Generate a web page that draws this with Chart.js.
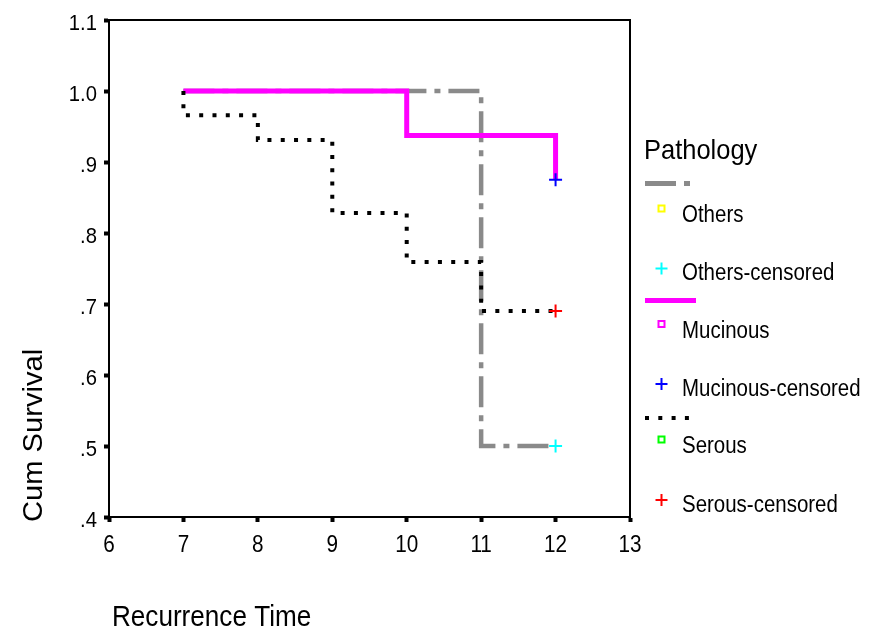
<!DOCTYPE html>
<html>
<head>
<meta charset="utf-8">
<script src="https://cdn.jsdelivr.net/npm/chart.js@4.4.1/dist/chart.umd.min.js"></script>
<style>
  html,body{margin:0;padding:0;background:#fff}
  canvas{display:block}
</style>
</head>
<body>
<canvas id="km" width="872" height="632"></canvas>
<script>
/* Kaplan-Meier: recurrence-free survival by pathology */
const TIME_OTHERS = [7, 11, 12];
const SURV_OTHERS = [1.0, 0.5, 0.5];
const TIME_MUC    = [7, 10, 12];
const SURV_MUC    = [1.0, 0.9375, 0.875];
const TIME_SER    = [7, 7, 8, 9, 10, 11, 12];
const SURV_SER    = [1.0, 0.966, 0.931, 0.828, 0.759, 0.690, 0.690];

// censored cases (last follow-up)
const CENS_TIME   = 12;
const CENS_OTHERS = 0.5;
const CENS_MUC    = 0.875;
const CENS_SER    = 0.690;

const X_TICKS = [6, 7, 8, 9, 10, 11, 12, 13];
const Y_TICKS = [0.4, 0.5, 0.6, 0.7, 0.8, 0.9, 1.0, 1.1];
const Y_TICK_LABELS = ['.4', '.5', '.6', '.7', '.8', '.9', '1.0', '1.1'];

const LEGEND_TITLE = 'Pathology';
const LEGEND_LABELS = ['Others', 'Others-censored', 'Mucinous', 'Mucinous-censored', 'Serous', 'Serous-censored'];

const FONT = '"Liberation Sans", Arial, sans-serif';
const C_OTHERS = '#8a8a8a', C_MUC = '#ff00ff', C_SER = '#000000';
const DASH_OTHERS = [31, 8, 6, 8], DASH_SER = [4, 9.3];

const pts = (xs, ys) => xs.map((x, i) => ({x, y: ys[i]}));

function txt(ctx, s, x, y, size, sx, align){
  ctx.save();
  ctx.font = size + 'px ' + FONT;
  ctx.fillStyle = '#000';
  ctx.textAlign = align || 'left';
  ctx.textBaseline = 'alphabetic';
  ctx.translate(x, y);
  ctx.scale(sx, 1);
  ctx.fillText(s, 0, 0);
  ctx.restore();
}
function seg(ctx, x1, y1, x2, y2, color, w, dash){
  ctx.save();
  ctx.strokeStyle = color; ctx.lineWidth = w; ctx.lineCap = 'butt';
  ctx.setLineDash(dash || []);
  ctx.beginPath(); ctx.moveTo(x1, y1); ctx.lineTo(x2, y2); ctx.stroke();
  ctx.restore();
}
function box(ctx, cx, cy, color){
  ctx.save(); ctx.strokeStyle = color; ctx.lineWidth = 2;
  ctx.strokeRect(cx - 3, cy - 3, 6, 6); ctx.restore();
}
function plus(ctx, cx, cy, color){
  seg(ctx, cx - 6, cy, cx + 6, cy, color, 2);
  seg(ctx, cx, cy - 6, cx, cy + 6, color, 2);
}

// frame, tick labels, axis titles and legend
const decor = {
  id: 'decor',
  afterDraw(chart){
    const ctx = chart.ctx, a = chart.chartArea;
    const xs = chart.scales.x, ys = chart.scales.y;
    ctx.save();
    ctx.strokeStyle = '#000'; ctx.lineWidth = 2;
    ctx.beginPath();
    ctx.moveTo(a.left, a.top); ctx.lineTo(a.right, a.top); ctx.lineTo(a.right, a.bottom);
    ctx.stroke();
    ctx.restore();

    Y_TICKS.forEach((v, i) => txt(ctx, Y_TICK_LABELS[i], 97, ys.getPixelForValue(v) + 9.5, 22, 0.92, 'right'));
    X_TICKS.forEach(v => txt(ctx, String(v), xs.getPixelForValue(v), 552, 23, 0.9, 'center'));

    ctx.save();
    ctx.font = '28px ' + FONT; ctx.fillStyle = '#000';
    ctx.translate(42, 522); ctx.rotate(-Math.PI / 2); ctx.scale(1.04, 1);
    ctx.fillText('Cum Survival', 0, 0);
    ctx.restore();
    txt(ctx, 'Recurrence Time', 112, 626, 30, 0.87);

    // legend
    txt(ctx, LEGEND_TITLE, 644, 159, 28, 0.91);
    const rows = [
      {line: [C_OTHERS, 5, DASH_OTHERS, 690], mk: box,  mc: '#ffff00'},
      {mk: plus, mc: '#00ffff'},
      {line: [C_MUC, 5, [], 696], mk: box,  mc: C_MUC},
      {mk: plus, mc: '#0000ff'},
      {line: [C_SER, 4, DASH_SER, 690], mk: box,  mc: '#00ff00'},
      {mk: plus, mc: '#ff0000'}
    ];
    const base = [222, 280, 337.5, 395.5, 453, 511.5];
    const lineY = [183.5, null, 300.5, null, 418];
    rows.forEach((r, i) => {
      if (r.line) seg(ctx, 645, lineY[i], r.line[3], lineY[i], r.line[0], r.line[1], r.line[2]);
      const my = r.mk === box ? base[i] - 13.5 : base[i] - 11.5;
      r.mk(ctx, 661.5, my, r.mc);
      txt(ctx, LEGEND_LABELS[i], 682, base[i], 23, 0.89);
    });
  }
};

const stepLine = (data, color, w, dash, order) => ({
  type: 'line', data, borderColor: color, borderWidth: w, borderDash: dash,
  borderCapStyle: 'butt', stepped: true, pointRadius: 0, fill: false, order
});
const censor = (y, color) => ({
  type: 'scatter', data: [{x: CENS_TIME, y}], pointStyle: 'cross', pointRadius: 6.5,
  pointBorderWidth: 2, borderColor: color, backgroundColor: color, order: 0
});

new Chart(document.getElementById('km'), {
  data: {
    datasets: [
      stepLine(pts(TIME_OTHERS, SURV_OTHERS), C_OTHERS, 4.5, DASH_OTHERS, 3),
      stepLine(pts(TIME_MUC, SURV_MUC), C_MUC, 5, [], 2),
      stepLine(pts(TIME_SER, SURV_SER), C_SER, 4, DASH_SER, 1),
      censor(CENS_OTHERS, '#00ffff'),
      censor(CENS_MUC, '#0000ff'),
      censor(CENS_SER, '#ff0000')
    ]
  },
  options: {
    responsive: false, animation: false, devicePixelRatio: 1,
    layout: {padding: {top: 20, right: 242, left: 0, bottom: 0}},
    plugins: {legend: {display: false}, tooltip: {enabled: false}},
    scales: {
      x: {
        type: 'linear', min: 6, max: 13,
        afterBuildTicks: s => { s.ticks = X_TICKS.map(v => ({value: v})); },
        afterFit: s => { s.height = 115; },
        ticks: {display: false},
        grid: {drawOnChartArea: false, drawTicks: true, tickLength: 5, tickWidth: 4, tickColor: '#000'},
        border: {color: '#000', width: 2}
      },
      y: {
        type: 'linear', min: 0.4, max: 1.1,
        afterBuildTicks: s => { s.ticks = Y_TICKS.map(v => ({value: v})); },
        afterFit: s => { s.width = 109; },
        ticks: {display: false},
        grid: {drawOnChartArea: false, drawTicks: true, tickLength: 5, tickWidth: 4, tickColor: '#000'},
        border: {color: '#000', width: 2}
      }
    }
  },
  plugins: [decor]
});
</script>
</body>
</html>
